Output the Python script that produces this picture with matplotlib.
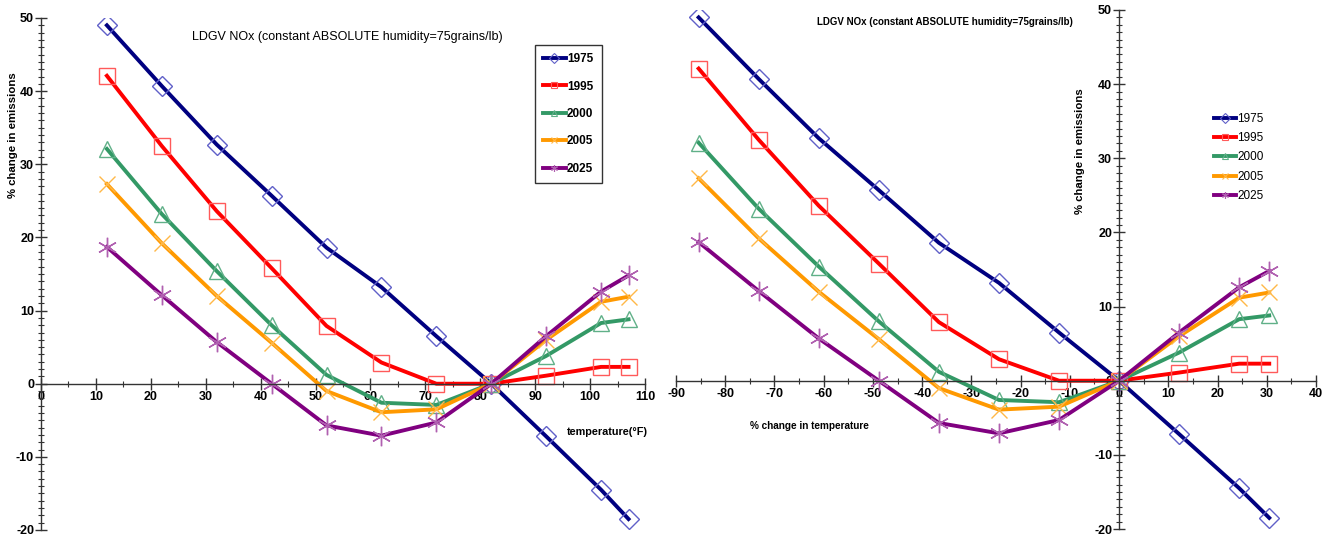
import matplotlib
matplotlib.use("Agg")
import matplotlib.pyplot as plt
from matplotlib.lines import Line2D
from matplotlib.ticker import MultipleLocator

plt.rcParams['font.family'] = ['Liberation Sans', 'DejaVu Sans']
plt.rcParams['axes.unicode_minus'] = False

# dados
temperatura_F = [12, 22, 32, 42, 52, 62, 72, 82, 92, 102, 107]
variacao_temp = [-85.4, -73.2, -61.0, -48.8, -36.6, -24.4, -12.2, 0, 12.2, 24.4, 30.5]
anos = ['1975', '1995', '2000', '2005', '2025']

nox_1975 = [49.0, 40.7, 32.7, 25.7, 18.6, 13.2, 6.5, 0, -7.2, -14.5, -18.5]
nox_1995 = [42.1, 32.5, 23.6, 15.8, 7.9, 2.9, 0.0, 0, 1.1, 2.3, 2.3]
nox_2000 = [32.1, 23.2, 15.4, 8.0, 1.2, -2.6, -2.9, 0, 3.8, 8.3, 8.8]
nox_2005 = [27.3, 19.2, 12.0, 5.6, -1.0, -3.9, -3.5, 0, 6.0, 11.2, 11.9]
nox_2025 = [18.7, 12.1, 5.7, 0.0, -5.7, -7.1, -5.3, 0, 6.5, 12.6, 14.8]
series = [nox_1975, nox_1995, nox_2000, nox_2005, nox_2025]

# estilo tipo Excel: linha escura, marcador vazado mais claro
estilos = [
    dict(color='#000080', marker='D', mec='#6060c8', ms=10),
    dict(color='#ff0000', marker='s', mec='#ff5a5a', ms=12),
    dict(color='#339966', marker='^', mec='#60b088', ms=12),
    dict(color='#ff9900', marker='x', mec='#ffb848', ms=12),
    dict(color='#800080', marker=(6, 2, 0), mec='#b060b0', ms=14),
]

titulo = 'LDGV NOx (constant ABSOLUTE humidity=75grains/lb)'


def desenhar_painel(ax, xs, xlim, xtick_min):
    for ys, st in zip(series, estilos):
        ax.plot(xs, ys, color=st['color'], linewidth=2.8, marker=st['marker'],
                markersize=st['ms'], markerfacecolor='none',
                markeredgecolor=st['mec'], markeredgewidth=1.0)
    ax.set_xlim(*xlim)
    ax.set_ylim(-20, 50)
    ax.spines['left'].set_position(('data', 0))
    ax.spines['bottom'].set_position(('data', 0))
    ax.spines['top'].set_visible(False)
    ax.spines['right'].set_visible(False)
    for s in ('left', 'bottom'):
        ax.spines[s].set_color('#333333')
        ax.spines[s].set_linewidth(1.0)
    ax.xaxis.set_major_locator(MultipleLocator(10))
    ax.xaxis.set_minor_locator(MultipleLocator(xtick_min))
    ax.yaxis.set_major_locator(MultipleLocator(10))
    ax.yaxis.set_minor_locator(MultipleLocator(1))
    ax.tick_params(which='major', direction='inout', length=8, width=1, color='#333333')
    ax.tick_params(which='minor', direction='inout', length=5, width=0.8, color='#333333')
    ax.tick_params(axis='both', labelsize=9, pad=1)
    for lb in ax.get_xticklabels() + ax.get_yticklabels():
        lb.set_fontweight('bold')
    ax.set_facecolor('none')


def legenda_handles():
    hs = []
    for st in estilos:
        hs.append(Line2D([0], [0], color=st['color'], linewidth=2.8, marker=st['marker'],
                         markersize=5, markerfacecolor='none',
                         markeredgecolor=st['mec'], markeredgewidth=0.8))
    return hs


fig = plt.figure(figsize=(13.29, 5.37), dpi=100)

# painel esquerdo: temperatura em F
ax1 = fig.add_axes([41 / 1329, 7 / 537, 604 / 1329, 512 / 537])
desenhar_painel(ax1, temperatura_F, (0, 110), 5)
fig.text(192 / 1329, 1 - 37 / 537, titulo, fontsize=9, va='center', ha='left')
fig.text(13 / 1329, 1 - 135 / 537, '% change in emissions', rotation=90, fontsize=8.2,
         fontweight='bold', va='center', ha='center')
fig.text(607 / 1329, 1 - 432 / 537, 'temperature(°F)', fontsize=7.8, fontweight='bold',
         va='center', ha='center')
leg1 = fig.legend(legenda_handles(), anos, loc='upper left',
                  bbox_to_anchor=(535 / 1329, 1 - 45 / 537),
                  prop={'weight': 'bold', 'size': 8.5}, labelspacing=1.3,
                  handlelength=1.9, handletextpad=0.1, borderpad=0.7,
                  fancybox=False, edgecolor='#333333', framealpha=1,
                  borderaxespad=0)
leg1.get_frame().set_linewidth(1.0)

# painel direito: variação percentual da temperatura
ax2 = fig.add_axes([676 / 1329, 8 / 537, 640 / 1329, 519 / 537])
desenhar_painel(ax2, variacao_temp, (-90, 40), 5)
fig.text(817 / 1329, 1 - 22 / 537, titulo, fontsize=7, fontweight='bold',
         va='center', ha='left')
fig.text(1080 / 1329, 1 - 151 / 537, '% change in emissions', rotation=90, fontsize=8.2,
         fontweight='bold', va='center', ha='center')
fig.text(809 / 1329, 1 - 426 / 537, '% change in temperature', fontsize=7.2, fontweight='bold',
         va='center', ha='center')
fig.legend(legenda_handles(), anos, loc='upper left',
           bbox_to_anchor=(1209 / 1329, 1 - 108 / 537), prop={'size': 8.5},
           labelspacing=0.62, handlelength=1.9, handletextpad=0.1,
           frameon=False, borderaxespad=0)

fig.savefig('out.png', dpi=100)
